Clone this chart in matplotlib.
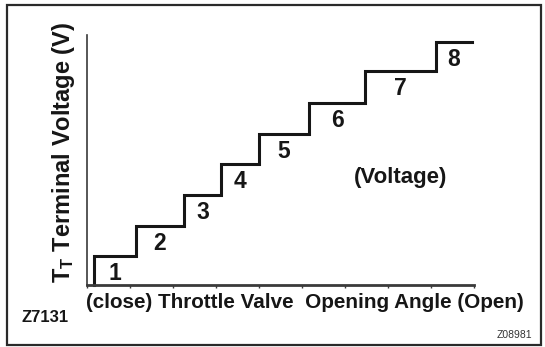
import matplotlib.pyplot as plt
from matplotlib.patches import Rectangle

# ---------- fonts ----------
plt.rcParams['font.family'] = ['Liberation Sans', 'DejaVu Sans']
plt.rcParams['font.weight'] = 'bold'
plt.rcParams['mathtext.fontset'] = 'custom'
plt.rcParams['mathtext.rm'] = 'Liberation Sans:bold'
plt.rcParams['mathtext.it'] = 'Liberation Sans:bold'
plt.rcParams['mathtext.bf'] = 'Liberation Sans:bold'

INK = '#161616'
AXIS = '#3a3a3a'

# ---------- data: voltage steps vs throttle opening ----------
step_labels = ['1', '2', '3', '4', '5', '6', '7', '8']
step_edges = [0.17, 1.13, 2.26, 3.11, 4.00, 5.16, 6.47, 8.12, 8.95]   # opening angle (tick units)
step_levels = [0.95, 1.94, 2.96, 3.98, 4.97, 5.99, 7.04, 7.99]         # terminal voltage (rel.)
angle_ticks = list(range(10))

# ---------- canvas ----------
fig = plt.figure(figsize=(5.45, 3.47), dpi=100, facecolor='white')

# outer frame
fig.patches.append(Rectangle((7 / 545, 2 / 347), 534 / 545, 340 / 347,
                             transform=fig.transFigure, fill=False,
                             edgecolor='#2a2a2a', linewidth=1.6))

ax = fig.add_axes([87 / 545, (347 - 285) / 347, (474 - 87) / 545, (285 - 35) / 347])
ax.set_xlim(0, 9)
ax.set_ylim(0, 8.22)
for side in ('top', 'right'):
    ax.spines[side].set_visible(False)
ax.spines['left'].set_color(AXIS)
ax.spines['left'].set_linewidth(1.2)
ax.spines['bottom'].set_color(AXIS)
ax.spines['bottom'].set_linewidth(2.0)
ax.set_xticks(angle_ticks)
ax.set_xticklabels([])
ax.set_yticks([])
ax.tick_params(axis='x', direction='out', length=2, width=1, color=AXIS)

# staircase
xs = [step_edges[0]] + step_edges
ys = [0] + step_levels + [step_levels[-1]]
ax.step(xs, ys, where='post', color=INK, linewidth=2.2, solid_joinstyle='miter',
        clip_on=False)

# step numbers under each tread
for i, lab in enumerate(step_labels):
    cx = (step_edges[i] + step_edges[i + 1]) / 2
    ax.text(cx, step_levels[i] - 0.57, lab, ha='center', va='center',
            fontsize=16.5, color=INK, fontweight='bold')

ax.text(7.3, 3.52, '(Voltage)', ha='center', va='center',
        fontsize=16, color=INK, fontweight='bold')

# ---------- axis captions ----------
fig.text(64 / 545, (347 - 152) / 347, r'$\mathrm{T_T}$ Terminal Voltage (V)',
         rotation=90, ha='center', va='center', fontsize=17, color=INK,
         fontweight='bold')
fig.text(86 / 545, (347 - 303) / 347,
         '(close) Throttle Valve  Opening Angle (Open)',
         ha='left', va='center', fontsize=14.9, color=INK, fontweight='bold')

fig.text(21 / 545, (347 - 318) / 347, 'Z7131', ha='left', va='center',
         fontsize=12, color=INK, fontweight='bold')
fig.text(532 / 545, (347 - 335) / 347, 'Z08981', ha='right', va='center',
         fontsize=7.5, color='#333333', fontweight='normal')

fig.savefig('out.png', dpi=100, facecolor='white')
